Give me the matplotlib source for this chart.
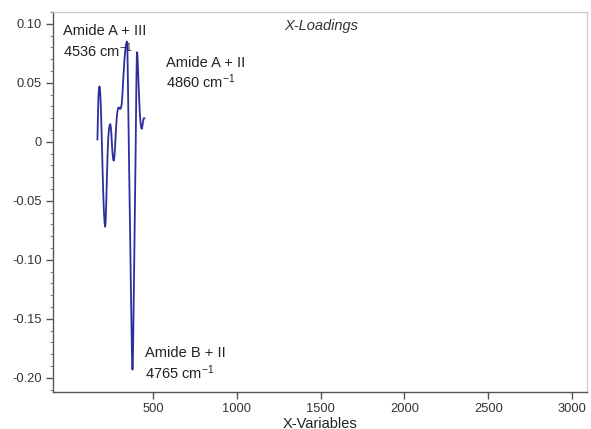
import matplotlib
matplotlib.use("Agg")
import matplotlib.pyplot as plt
from matplotlib.ticker import AutoMinorLocator

plt.rcParams['font.family'] = ['Liberation Sans', 'DejaVu Sans']
plt.rcParams['mathtext.default'] = 'regular'

# X-variable index and loading value
x_vars = [168, 171, 174, 177, 180, 183, 187, 191, 195, 199, 203, 207, 211, 214, 217,
          221, 225, 229, 233, 237, 241, 245, 249, 253, 257, 261, 265, 269, 273, 277,
          281, 285, 289, 293, 297, 301, 305, 309, 313, 317, 321, 325, 329, 333, 337,
          341, 344, 347, 350, 354, 358, 362, 366, 370, 373, 375, 377, 379, 381, 384,
          388, 392, 396, 399, 401, 403, 405, 408, 412, 416, 420, 424, 428, 432, 436,
          440, 444, 448]
loadings = [0.002, 0.022, 0.038, 0.045, 0.047, 0.045, 0.035, 0.018, -0.003, -0.025,
            -0.045, -0.060, -0.069, -0.072, -0.068, -0.050, -0.028, -0.009, 0.004, 0.011,
            0.014, 0.015, 0.011, 0.002, -0.008, -0.014, -0.016, -0.013, -0.005, 0.006,
            0.016, 0.023, 0.027, 0.029, 0.029, 0.028, 0.028, 0.029, 0.032, 0.040,
            0.050, 0.060, 0.069, 0.076, 0.081, 0.084, 0.085, 0.078, 0.050, 0.010,
            -0.030, -0.068, -0.107, -0.145, -0.172, -0.186, -0.193, -0.188, -0.172, -0.140,
            -0.097, -0.052, -0.008, 0.032, 0.056, 0.072, 0.076, 0.070, 0.055, 0.040,
            0.027, 0.018, 0.013, 0.011, 0.013, 0.017, 0.020, 0.020]

x_ticks = [500, 1000, 1500, 2000, 2500, 3000]
y_ticks = [0.10, 0.05, 0.0, -0.05, -0.10, -0.15, -0.20]
y_tick_labels = ["0.10", "0.05", "0", "-0.05", "-0.10", "-0.15", "-0.20"]

annotations = [
    ("Amide A + III\n4536 cm$^{-1}$", -37, 0.1000),
    ("Amide A + II\n4860 cm$^{-1}$", 578, 0.0730),
    ("Amide B + II\n4765 cm$^{-1}$", 452, -0.1730),
]

fig = plt.figure(figsize=(5.91, 4.29), dpi=100)
ax = fig.add_axes([0.0897, 0.0862, 0.9035, 0.8858])

ax.plot(x_vars, loadings, color='#2e2e9e', lw=1.3)

ax.set_xlim(-97, 3089)
ax.set_ylim(-0.212, 0.110)

ax.set_xticks(x_ticks)
ax.set_xticklabels([str(t) for t in x_ticks])
ax.set_yticks(y_ticks)
ax.set_yticklabels(y_tick_labels)
ax.yaxis.set_minor_locator(AutoMinorLocator(5))

ax.tick_params(axis='both', which='major', direction='out', length=5, width=1,
               color='#555555', labelcolor='#333333', labelsize=9.3, pad=3)
ax.tick_params(axis='y', which='minor', direction='out', length=2.5, width=0.8,
               color='#888888')

for s in ['left', 'bottom']:
    ax.spines[s].set_color('#555555')
    ax.spines[s].set_linewidth(1.0)
for s in ['top', 'right']:
    ax.spines[s].set_color('#cccccc')
    ax.spines[s].set_linewidth(1.0)

for txt, xx, yy in annotations:
    ax.text(xx, yy, txt, fontsize=10.5, color='#222222', va='top', ha='left',
            linespacing=1.2)

ax.text(1282, 0.1040, "X-Loadings", fontsize=10.5, style='italic', color='#333333',
        va='top', ha='left')

ax.set_xlabel("X-Variables", fontsize=10.5, color='#222222', labelpad=1)

fig.savefig("out.png", dpi=100)
